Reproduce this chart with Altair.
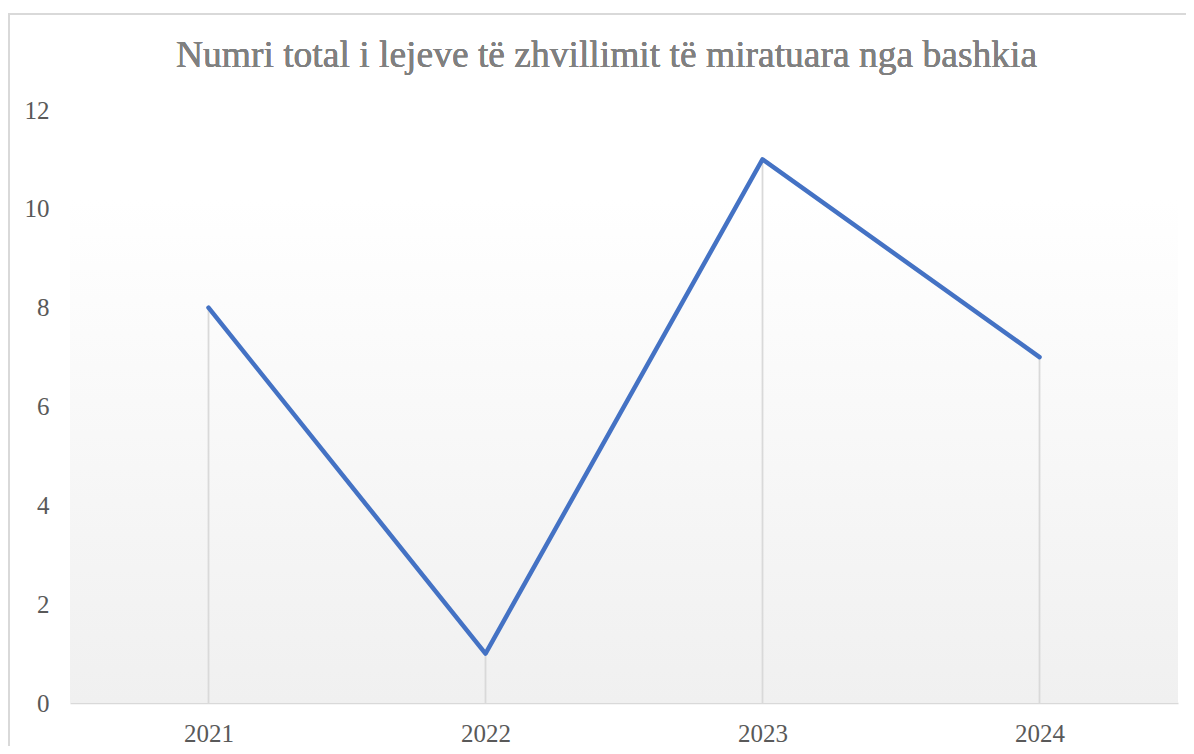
import altair as alt
import pandas as pd

years = ["2021", "2022", "2023", "2024"]
permits = [8, 1, 11, 7]
y_ticks = [0, 2, 4, 6, 8, 10, 12]
title_text = "Numri total i lejeve të zhvillimit të miratuara nga bashkia"

df = pd.DataFrame({"year": years, "value": permits})

W, H = 1108, 593
FONT = "Liberation Serif"

xenc = alt.X("year:N", sort=years, title=None,
             scale=alt.Scale(type="point", padding=0.5),
             axis=alt.Axis(labelAngle=0, ticks=False, grid=False,
                           domainColor="#d9d9d9", domainWidth=1.5,
                           labelFont=FONT, labelFontSize=25, labelColor="#595959",
                           labelPadding=18))
yenc = alt.Y("value:Q", title=None,
             scale=alt.Scale(domain=[0, 12], nice=False),
             axis=alt.Axis(values=y_ticks, domain=False, ticks=False, grid=False,
                           labelFont=FONT, labelFontSize=25, labelColor="#595959",
                           labelPadding=21))

bg = alt.Chart(df).mark_rect(
    color=alt.Gradient(gradient="linear", x1=0, y1=0, x2=0, y2=1,
                       stops=[alt.GradientStop(offset=0, color="#ffffff"),
                              alt.GradientStop(offset=0.15, color="#ffffff"),
                              alt.GradientStop(offset=1, color="#f0f0f0")])
).encode(x=alt.value(0), x2=alt.value(W), y=alt.value(0), y2=alt.value(H))

frame = alt.Chart(df).mark_rect(fill=None, stroke="#d9d9d9", strokeWidth=2).encode(
    x=alt.value(-61), x2=alt.value(W + 200), y=alt.value(-96), y2=alt.value(H + 200))

title = alt.Chart(df).mark_text(font=FONT, fontSize=37.5, color="#808080",
                                align="center", baseline="alphabetic").encode(
    x=alt.value(536.5), y=alt.value(-43), text=alt.value(title_text))

drops = alt.Chart(df).mark_rule(color="#d9d9d9", strokeWidth=1.8).encode(
    x=xenc, y=yenc, y2=alt.datum(0))

line = alt.Chart(df).mark_line(color="#4472c4", strokeWidth=4.5,
                               strokeCap="round", strokeJoin="round").encode(
    x=xenc, y=yenc)

chart = alt.layer(bg, frame, title, drops, line).properties(
    width=W, height=H,
    padding={"left": 62, "top": 102, "right": 8, "bottom": 43},
    autosize=alt.AutoSizeParams(type="none"),
).configure_view(stroke=None)

chart.save("out.html", embed_options={"renderer": "svg", "actions": False})
